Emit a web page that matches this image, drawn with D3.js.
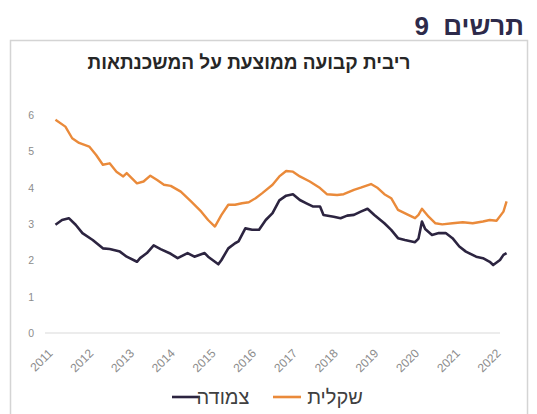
<!DOCTYPE html>
<html>
<head>
<meta charset="utf-8">
<script src="https://cdn.jsdelivr.net/npm/d3@7/dist/d3.min.js"></script>
<style>
  html, body { margin: 0; padding: 0; background: #ffffff; }
  svg { display: block; font-family: "Liberation Sans", Arial, "DejaVu Sans", sans-serif; }
</style>
</head>
<body>
<svg id="chart" width="537" height="414"></svg>
<script>
// Average fixed mortgage rates (%), monthly readings
const shekelDates = ["2011-02","2011-05","2011-07","2011-09","2011-12","2012-02","2012-04","2012-06","2012-08","2012-10","2012-11",
  "2013-02","2013-04","2013-06","2013-08","2013-10","2013-12","2014-03","2014-06","2014-09","2014-11","2015-01","2015-03",
  "2015-05","2015-07","2015-09","2015-11","2016-01","2016-03","2016-06","2016-08","2016-10","2016-12","2017-02","2017-05",
  "2017-08","2017-10","2018-01","2018-03","2018-06","2018-08","2018-11","2019-01","2019-03","2019-05","2019-07","2019-10",
  "2019-12","2020-01","2020-02","2020-04","2020-06","2020-08","2020-11","2021-02","2021-05","2021-08","2021-10","2021-12",
  "2022-02","2022-03"];
const shekelValues = [5.87,5.68,5.36,5.23,5.13,4.90,4.63,4.67,4.44,4.31,4.40,
  4.12,4.17,4.33,4.21,4.08,4.05,3.89,3.62,3.34,3.11,2.93,3.25,
  3.53,3.53,3.57,3.60,3.71,3.85,4.08,4.31,4.46,4.44,4.31,4.17,
  3.99,3.82,3.80,3.82,3.94,4.00,4.10,3.99,3.82,3.71,3.39,3.25,
  3.16,3.25,3.42,3.20,3.02,2.99,3.02,3.05,3.02,3.07,3.11,3.09,
  3.34,3.62];

const indexedDates = ["2011-02","2011-04","2011-06","2011-08","2011-10","2012-01","2012-04","2012-06","2012-09","2012-11",
  "2013-02","2013-03","2013-05","2013-07","2013-09","2013-12","2014-02","2014-05","2014-07","2014-10","2014-11","2015-02",
  "2015-03","2015-05","2015-07","2015-08","2015-10","2015-12","2016-02","2016-04","2016-06","2016-08","2016-10","2016-12",
  "2017-02","2017-04","2017-06","2017-08","2017-09","2017-12","2018-02","2018-04","2018-06","2018-08","2018-10","2018-12",
  "2019-03","2019-05","2019-07","2019-09","2019-12","2020-01","2020-02","2020-03","2020-05","2020-07","2020-09","2020-11",
  "2021-01","2021-03","2021-06","2021-08","2021-10","2021-11","2022-01","2022-02","2022-03"];
const indexedValues = [2.98,3.11,3.16,2.98,2.75,2.56,2.33,2.31,2.24,2.10,
  1.96,2.06,2.20,2.41,2.31,2.18,2.06,2.20,2.10,2.20,2.10,1.89,
  2.01,2.33,2.47,2.52,2.88,2.84,2.84,3.11,3.30,3.65,3.78,3.82,
  3.66,3.57,3.48,3.48,3.25,3.20,3.16,3.23,3.25,3.34,3.42,3.25,
  3.02,2.84,2.61,2.56,2.50,2.60,3.07,2.86,2.70,2.75,2.75,2.61,
  2.38,2.24,2.10,2.06,1.96,1.87,2.01,2.15,2.20];

const yearLabels = ["2011","2012","2013","2014","2015","2016","2017","2018","2019","2020","2021","2022"];
const yTicks = [0, 1, 2, 3, 4, 5, 6];

const seriesNames = ["צמודה", "שקלית"];
const seriesColors = ["#2c2440", "#ea8a3a"];

const parse = d3.timeParse("%Y-%m");
const svg = d3.select("#chart");

// outer frame
svg.append("rect")
  .attr("x", 10.5).attr("y", 40.5)
  .attr("width", 517).attr("height", 390)
  .attr("fill", "#ffffff")
  .attr("stroke", "#d4d4d4").attr("stroke-width", 1.5);

// figure number, right-aligned to the frame
const fig = svg.append("text")
  .attr("y", 35)
  .attr("text-anchor", "middle").attr("direction", "rtl")
  .attr("font-size", 26).attr("font-weight", "bold")
  .attr("fill", "#2d2a4a")
  .attr("xml:space", "preserve")
  .text("תרשים  9");
const figW = fig.node().getComputedTextLength();
fig.attr("x", 524 - figW / 2);

// chart title
svg.append("text")
  .attr("x", 249).attr("y", 69)
  .attr("text-anchor", "middle").attr("direction", "rtl")
  .attr("font-size", 19).attr("font-weight", "bold")
  .attr("fill", "#262626")
  .text("ריבית קבועה ממוצעת על המשכנתאות");

const x = d3.scaleTime()
  .domain([new Date(2011, 0, 1), new Date(2022, 0, 1)])
  .range([52, 500]);
const y = d3.scaleLinear().domain([0, 6]).range([333, 115]);

// y axis labels
const yAxis = d3.axisLeft(y).tickValues(yTicks).tickSize(0).tickPadding(0).tickFormat(d3.format("d"));
const gy = svg.append("g").attr("transform", "translate(34,0)").call(yAxis);
gy.select(".domain").remove();
gy.selectAll("text").attr("font-size", 10.5).attr("fill", "#8c8c8c").attr("font-family", "inherit");

// baseline at zero
svg.append("line")
  .attr("x1", 45).attr("x2", 500)
  .attr("y1", y(0)).attr("y2", y(0))
  .attr("stroke", "#d9d9d9").attr("stroke-width", 1.2);

// x axis labels, rotated
const xAxis = d3.axisBottom(x)
  .tickValues(yearLabels.map(s => new Date(+s, 0, 1)))
  .tickSize(0).tickPadding(0)
  .tickFormat(d3.timeFormat("%Y"));
const gx = svg.append("g").attr("transform", `translate(0,${y(0)})`).call(xAxis);
gx.select(".domain").remove();
gx.selectAll("text")
  .attr("font-size", 12).attr("fill", "#8c8c8c").attr("font-family", "inherit")
  .attr("text-anchor", "end")
  .attr("dy", 0).attr("y", 0)
  .attr("transform", "translate(1,21) rotate(-45)");

const line = d3.line()
  .x(d => x(d.date))
  .y(d => y(d.value));

const shekel = shekelDates.map((d, i) => ({ date: parse(d), value: shekelValues[i] }));
const indexed = indexedDates.map((d, i) => ({ date: parse(d), value: indexedValues[i] }));

svg.append("path").datum(shekel)
  .attr("d", line).attr("fill", "none")
  .attr("stroke", seriesColors[1]).attr("stroke-width", 2.4)
  .attr("stroke-linejoin", "round");

svg.append("path").datum(indexed)
  .attr("d", line).attr("fill", "none")
  .attr("stroke", seriesColors[0]).attr("stroke-width", 2.6)
  .attr("stroke-linejoin", "round");

// legend
const legendItems = [
  { name: seriesNames[0], color: seriesColors[0], lx: 172, tx: 223 },
  { name: seriesNames[1], color: seriesColors[1], lx: 273, tx: 335 }
];
const lg = svg.append("g");
legendItems.forEach(it => {
  lg.append("line")
    .attr("x1", it.lx).attr("x2", it.lx + 28)
    .attr("y1", 397).attr("y2", 397)
    .attr("stroke", it.color).attr("stroke-width", 2.6);
  lg.append("text")
    .attr("x", it.tx).attr("y", 404)
    .attr("text-anchor", "middle").attr("direction", "rtl")
    .attr("font-size", 20).attr("fill", "#404040")
    .text(it.name);
});
</script>
</body>
</html>
